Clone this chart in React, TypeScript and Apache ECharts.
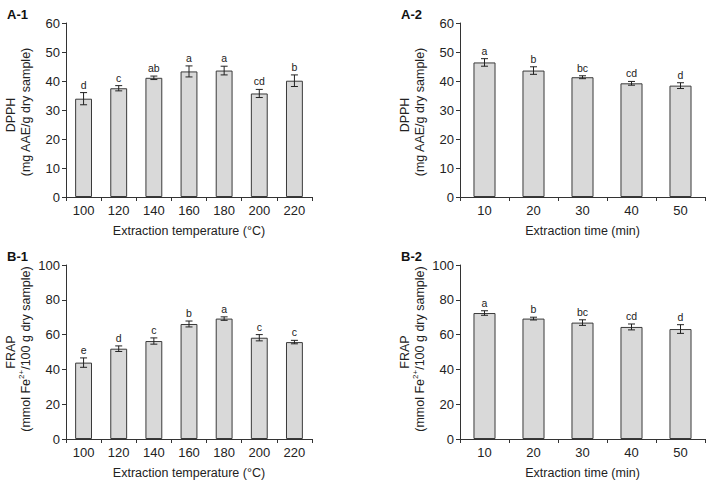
import React, { useEffect, useRef } from "react";
import * as echarts from "echarts";

const tempCats = ["100", "120", "140", "160", "180", "200", "220"];
const timeCats = ["10", "20", "30", "40", "50"];

const dpphTemp = [33.9, 37.5, 41.1, 43.3, 43.6, 35.7, 40.1];
const dpphTempErr = [2.1, 0.9, 0.6, 1.9, 1.5, 1.4, 2.0];
const dpphTempLetters = ["d", "c", "ab", "a", "a", "cd", "b"];

const dpphTime = [46.4, 43.6, 41.3, 39.2, 38.4];
const dpphTimeErr = [1.3, 1.3, 0.5, 0.65, 1.0];
const dpphTimeLetters = ["a", "b", "bc", "cd", "d"];

const frapTemp = [43.9, 51.9, 56.3, 66.1, 69.2, 58.2, 55.7];
const frapTempErr = [2.7, 1.6, 1.8, 1.7, 1.0, 1.8, 1.0];
const frapTempLetters = ["e", "d", "c", "b", "a", "c", "c"];

const frapTime = [72.4, 69.2, 66.9, 64.4, 63.2];
const frapTimeErr = [1.3, 0.8, 1.6, 1.7, 2.5];
const frapTimeLetters = ["a", "b", "bc", "cd", "d"];

const FONT = "Liberation Sans, Arial, sans-serif";
const AX = "#333";

function App() {
  const ref = useRef<HTMLDivElement>(null);
  useEffect(() => {
    if (!ref.current) return;
    const chart = echarts.init(ref.current, null, { renderer: "svg" });

    const grids = [
      { left: 66, top: 23, width: 246, height: 174 },
      { left: 460, top: 23, width: 245, height: 174 },
      { left: 66, top: 265, width: 246, height: 174 },
      { left: 460, top: 265, width: 245, height: 174 },
    ];
    const cats = [tempCats, timeCats, tempCats, timeCats];
    const xNames = [
      "Extraction temperature (°C)",
      "Extraction time (min)",
      "Extraction temperature (°C)",
      "Extraction time (min)",
    ];
    const maxes = [60, 60, 100, 100];
    const intervals = [10, 10, 20, 20];
    const vals = [dpphTemp, dpphTime, frapTemp, frapTime];
    const errs = [dpphTempErr, dpphTimeErr, frapTempErr, frapTimeErr];
    const letters = [dpphTempLetters, dpphTimeLetters, frapTempLetters, frapTimeLetters];
    const barWidths = ["48%", "45%", "48%", "45%"];

    const xAxis = grids.map((_, i) => ({
      type: "category",
      gridIndex: i,
      data: cats[i],
      name: xNames[i],
      nameLocation: "middle",
      nameGap: 27,
      nameTextStyle: { fontSize: 12.5, color: "#222", fontFamily: FONT, verticalAlign: "top" },
      axisLine: { lineStyle: { color: AX, width: 1 } },
      axisTick: { show: true, length: 4, lineStyle: { color: AX } },
      axisLabel: { fontSize: 13, color: "#222", fontFamily: FONT, margin: 7 },
      splitLine: { show: false },
    }));
    const yAxis = grids.map((_, i) => ({
      type: "value",
      gridIndex: i,
      min: 0,
      max: maxes[i],
      interval: intervals[i],
      axisLine: { show: true, lineStyle: { color: AX, width: 1 } },
      axisTick: { show: true, length: 4, lineStyle: { color: AX } },
      axisLabel: { fontSize: 13, color: "#222", fontFamily: FONT, margin: 6 },
      splitLine: { show: false },
    }));

    const series: any[] = [];
    grids.forEach((_, i) => {
      series.push({
        type: "bar",
        xAxisIndex: i,
        yAxisIndex: i,
        data: vals[i],
        barWidth: barWidths[i],
        itemStyle: { color: "#d9d9d9", borderColor: "#3a3a3a", borderWidth: 1 },
        z: 2,
      });
      series.push({
        type: "custom",
        xAxisIndex: i,
        yAxisIndex: i,
        z: 5,
        data: vals[i].map((v, j) => [j, v, errs[i][j], letters[i][j]]),
        renderItem: (params: any, api: any) => {
          const idx = api.value(0);
          const v = api.value(1);
          const e = api.value(2);
          const letter = letters[i][params.dataIndex];
          const top = api.coord([idx, v + e]);
          const bot = api.coord([idx, v - e]);
          const x = top[0];
          const cap = 3.5;
          const ls = { stroke: "#222", lineWidth: 1 };
          return {
            type: "group",
            children: [
              { type: "line", shape: { x1: x, y1: top[1], x2: x, y2: bot[1] }, style: ls },
              { type: "line", shape: { x1: x - cap, y1: top[1], x2: x + cap, y2: top[1] }, style: ls },
              { type: "line", shape: { x1: x - cap, y1: bot[1], x2: x + cap, y2: bot[1] }, style: ls },
              {
                type: "text",
                style: {
                  text: letter,
                  x: x,
                  y: top[1] - 2.5,
                  align: "center",
                  verticalAlign: "bottom",
                  fontSize: 10.5,
                  fontFamily: FONT,
                  fill: "#222",
                },
              },
            ],
          };
        },
      });
    });

    const yName = (x: number, y: number, text: string, rich?: any) => ({
      type: "text",
      x,
      y,
      rotation: Math.PI / 2,
      style: {
        text,
        align: "center",
        verticalAlign: "middle",
        fontSize: 12.5,
        fontFamily: FONT,
        fill: "#222",
        rich,
      },
    });
    const supRich = {
      sup: { fontSize: 8, fontFamily: FONT, fill: "#222", verticalAlign: "top", padding: [0, 0, 10, 0] },
    };

    const panelLabel = (x: number, y: number, text: string) => ({
      type: "text",
      x,
      y,
      style: {
        text,
        fontSize: 13,
        fontWeight: "bold",
        fontFamily: FONT,
        fill: "#111",
        verticalAlign: "top",
      },
    });

    chart.setOption({
      animation: false,
      backgroundColor: "#ffffff",
      grid: grids,
      xAxis,
      yAxis,
      series,
      graphic: [
        panelLabel(7, 8, "A-1"),
        panelLabel(401, 8, "A-2"),
        panelLabel(7, 250, "B-1"),
        panelLabel(401, 250, "B-2"),
        yName(11, 115, "DPPH"),
        yName(26, 112, "(mg AAE/g dry sample)"),
        yName(405, 115, "DPPH"),
        yName(420, 112, "(mg AAE/g dry sample)"),
        yName(11, 352, "FRAP"),
        yName(26, 349, "(mmol Fe{sup|2+}/100 g dry sample)", supRich),
        yName(405, 352, "FRAP"),
        yName(420, 349, "(mmol Fe{sup|2+}/100 g dry sample)", supRich),
      ],
    });
    return () => chart.dispose();
  }, []);
  return (
    <div
      ref={ref}
      style={{ position: "absolute", left: 0, top: 0, width: 712, height: 485 }}
    />
  );
}

export default App;
